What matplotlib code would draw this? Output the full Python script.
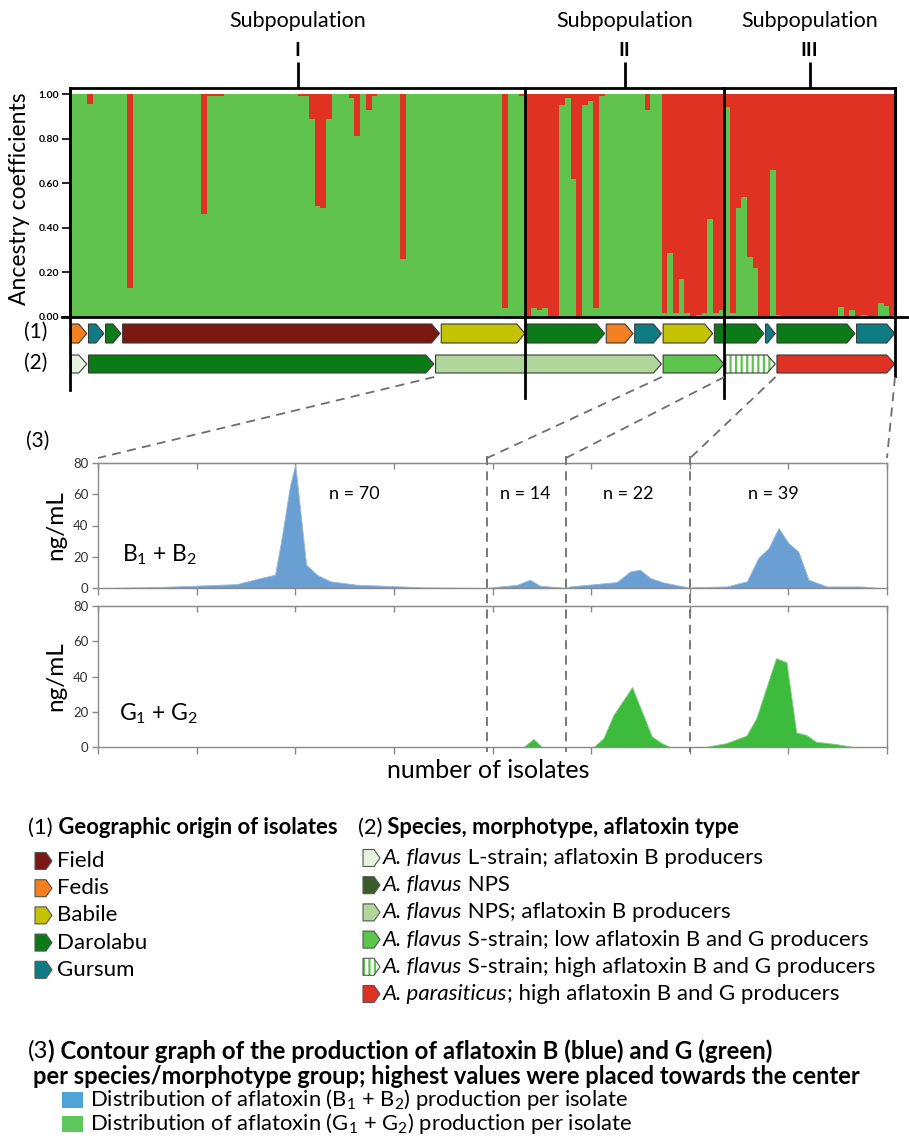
import matplotlib
matplotlib.use('Agg')
import matplotlib.pyplot as plt
from matplotlib.patches import Polygon, Rectangle
import numpy as np

plt.rcParams['font.family'] = ['Lato', 'DejaVu Sans']
plt.rcParams['mathtext.fontset'] = 'custom'
plt.rcParams['mathtext.rm'] = 'Lato'
plt.rcParams['mathtext.it'] = 'Lato:italic'
plt.rcParams['mathtext.bf'] = 'Lato:bold'
plt.rcParams['hatch.linewidth'] = 1.6

# ------------------------------------------------------------------ data
subpop_names = ['I', 'II', 'III']
subpop_sizes = [80, 35, 30]

# ancestry coefficient of the "green" cluster per isolate (red = 1 - green)
green_I = [1, 1, 1, 0.955, 1, 1, 1, 1, 1, 1,
           0.13, 1, 1, 1, 1, 1, 1, 1, 1, 1,
           1, 1, 1, 0.46, 0.99, 0.99, 0.99, 1, 1, 1,
           1, 1, 1, 1, 1, 1, 1, 1, 1, 1,
           0.99, 0.99, 0.89, 0.50, 0.49, 0.89, 1, 1, 1, 0.98,
           0.81, 1, 0.93, 0.99, 1, 1, 1, 1, 0.26, 1,
           1, 1, 1, 1, 1, 1, 1, 1, 1, 1,
           1, 1, 1, 1, 1, 1, 0.04, 1, 1, 0.99]
green_II = [0.0, 0.04, 0.03, 0.04, 0.0, 0.0, 0.95, 0.98, 0.62, 0.0,
            0.95, 0.97, 0.04, 0.99, 1, 1, 1, 1, 1, 1,
            1, 0.93, 1, 1, 0.02, 0.285, 0.02, 0.17, 0.02, 0.0,
            0.01, 0.02, 0.44, 0.02, 0.03]
green_III = [0.94, 0.02, 0.49, 0.54, 0.27, 0.22, 0.0, 0.0, 0.66, 0.01,
             0, 0, 0, 0, 0, 0, 0, 0, 0, 0,
             0.045, 0, 0.03, 0, 0.01, 0, 0, 0.065, 0.05, 0]
yticks_anc = [0.0, 0.2, 0.4, 0.6, 0.8, 1.0]

# (1) geographic origin, consecutive groups of isolates
origin_groups = ['Fedis', 'Gursum', 'Darolabu', 'Field', 'Babile', 'Darolabu', 'Fedis',
                 'Gursum', 'Babile', 'Darolabu', 'Gursum', 'Darolabu', 'Gursum']
origin_counts = [3, 3, 3, 56, 15, 14, 5, 5, 9, 9, 2, 14, 7]
origin_legend = ['Field', 'Fedis', 'Babile', 'Darolabu', 'Gursum']

# (2) species / morphotype groups
species_groups = ['L', 'NPS', 'NPSB', 'Slow', 'Shigh', 'par']
species_counts = [3, 61, 40, 11, 9, 21]
species_legend = [('L', 'A. flavus', ' L-strain; aflatoxin B producers'),
                  ('NPSleg', 'A. flavus', ' NPS'),
                  ('NPSB', 'A. flavus', ' NPS; aflatoxin B producers'),
                  ('Slow', 'A. flavus', ' S-strain; low aflatoxin B and G producers'),
                  ('Shigh', 'A. flavus', ' S-strain; high aflatoxin B and G producers'),
                  ('par', 'A. parasiticus', '; high aflatoxin B and G producers')]

# (3) contour graphs: isolate position vs ng/mL
group_n = [70, 14, 22, 39]
group_bounds = [0, 78.9, 94.9, 120.1, 160]
n_label_x = [51.9, 86.6, 107.5, 136.9]
B_x = [0, 11.9, 20, 28.1, 33.5, 35.9, 37.3, 38.9, 40.0, 41.0, 42.2, 44.4, 47.1, 52.5, 61.6, 65.9, 78.9,
       81.5, 84.9, 87.6, 89.6, 93.7, 94.9,
       95.7, 99.1, 105.2, 107.9, 109.9, 112.0, 114.6, 118.7, 120.1,
       120.7, 127.5, 131.6, 133.9, 136.0, 138.0, 140.0, 142.0, 144.1, 147.8, 154.9, 157.3, 158.6]
B_y = [0, 0.6, 1.5, 2.5, 6.8, 8.5, 33, 65, 79, 50, 15, 8.5, 4.3, 2.1, 1, 0.4, 0,
       1, 2, 5.3, 1.5, 0.4, 0,
       1, 2, 3.8, 10.6, 11.7, 6.4, 3.6, 1, 0,
       0.5, 1, 4.3, 19.2, 25.6, 38.4, 28.8, 23.4, 5.3, 1, 1, 0.3, 0]
G_x = [0, 86.3, 88.3, 90.0, 100.5, 102.5, 104.5, 108.3, 112.3, 114.3, 116.0,
       123.3, 127.4, 131.5, 133.5, 137.5, 139.6, 141.6, 143.6, 145.6, 149.6, 153.1, 160]
G_y = [0, 0, 4.6, 0, 0, 5, 18, 34, 6, 2.2, 0,
       0.1, 2.2, 6.5, 16.3, 50.4, 48.1, 8.2, 6.9, 3, 1.7, 0, 0]
yticks_ng = [0, 20, 40, 60, 80]

# ------------------------------------------------------------------ style
C_GREEN = '#5fc34d'
C_RED = '#df3222'
origin_colors = {'Field': '#7a1912', 'Fedis': '#f27f20', 'Babile': '#c3c300',
                 'Darolabu': '#0b7b17', 'Gursum': '#0f7c83'}
species_colors = {'L': '#e4f1de', 'NPS': '#0b7b17', 'NPSleg': '#3b5b29', 'NPSB': '#b1d69b',
                  'Slow': '#5dc44d', 'Shigh': '#5dc44d', 'par': '#e03224'}
C_B = '#6a9fd4'
C_G = '#3dbb3d'
C_EDGE = '#3a3a3a'
GRAY = '#8a8a8a'

W, H = 909, 1143
fig = plt.figure(figsize=(W / 100, H / 100), dpi=100)


def add_px_axes(x0, y0, x1, y1):
    return fig.add_axes([x0 / W, 1 - y1 / H, (x1 - x0) / W, (y1 - y0) / H])


# ------------------------------------------------------------------ ancestry bars
BX0, BX1, BY0, BY1 = 70, 895, 88, 317
N = sum(subpop_sizes)
green = np.array(green_I + green_II + green_III, dtype=float)
idx = np.arange(N)
axb = add_px_axes(BX0, BY0, BX1, BY1)
axb.bar(idx, green, width=1.0, align='edge', color=C_GREEN, linewidth=0, antialiased=False)
axb.bar(idx, 1 - green, bottom=green, width=1.0, align='edge', color=C_RED, linewidth=0,
        antialiased=False)
axb.set_xlim(0, N)
axb.set_ylim(0, 1.027)
axb.set_xticks([])
axb.set_yticks(yticks_anc)
axb.set_yticklabels([f'{v:.2f}' for v in yticks_anc], fontsize=7.5, fontweight='bold')
axb.tick_params(axis='y', length=6, width=1.2, pad=2)
for s in ['left', 'top', 'right']:
    axb.spines[s].set_linewidth(2)
axb.spines['bottom'].set_visible(False)


def bx(i):
    return BX0 + i * (BX1 - BX0) / N


# ------------------------------------------------------------------ arrow rows
axa = add_px_axes(BX0, 318, BX1, 382)
axa.set_xlim(0, N)
axa.set_ylim(382, 318)
axa.axis('off')
TIP = 8 * N / (BX1 - BX0)


def arrow_pts(x0, x1, y0, y1, tip):
    ym = (y0 + y1) / 2
    tip = min(tip, (x1 - x0) * 0.8)
    return [(x0, y0), (x1 - tip, y0), (x1, ym), (x1 - tip, y1), (x0, y1)]


def draw_row(ax, names, counts, colors, y0, y1):
    start = 0
    for nm, c in zip(names, counts):
        pts = arrow_pts(start + 0.25, start + c - 0.05, y0, y1, TIP)
        if nm == 'Shigh':
            ax.add_patch(Polygon(pts, facecolor='white', edgecolor=colors[nm], hatch='|||', lw=0))
            ax.add_patch(Polygon(pts, facecolor='none', edgecolor=C_EDGE, lw=0.8))
        else:
            ax.add_patch(Polygon(pts, facecolor=colors[nm], edgecolor=C_EDGE, lw=0.8))
        start += c


draw_row(axa, origin_groups, origin_counts, origin_colors, 324, 343)
draw_row(axa, species_groups, species_counts, species_colors, 355, 373)

# ------------------------------------------------------------------ contour graphs
CX0, CX1 = 98, 887
axB = add_px_axes(CX0, 463, CX1, 588)
axG = add_px_axes(CX0, 606, CX1, 747)
axB.fill_between(B_x, B_y, 0, color=C_B, linewidth=0.6, edgecolor='#9ab8d8')
axG.fill_between(G_x, G_y, 0, color=C_G, linewidth=0.6, edgecolor='#7ccf7c')
for ax in (axB, axG):
    ax.set_xlim(group_bounds[0], group_bounds[-1])
    ax.set_ylim(0, 80)
    ax.set_xticks(np.arange(0, 161, 20))
    ax.set_xticklabels([])
    ax.set_yticks(yticks_ng)
    ax.set_yticklabels([str(v) for v in yticks_ng], fontsize=9.5, color='#333333')
    ax.tick_params(axis='x', direction='out', length=5, color=GRAY, width=1)
    ax.tick_params(axis='y', direction='out', length=4, color=GRAY, width=1, pad=3)
    for s in ax.spines.values():
        s.set_color(GRAY)
        s.set_linewidth(1)
    sec = ax.secondary_xaxis('top')
    sec.set_xticks(np.arange(0, 161, 20))
    sec.set_xticklabels([])
    sec.tick_params(direction='in', length=4, color=GRAY, width=1)
    sec.spines['top'].set_color(GRAY)
    ax.set_ylabel('ng/mL', fontsize=17.5, labelpad=5)
for k, n in enumerate(group_n):
    axB.text(n_label_x[k], 60, f'n = {n}', fontsize=13, ha='center', va='center')
axB.text(4.9, 21, 'B$_1$ + B$_2$', fontsize=16.5, ha='left', va='center')
axG.text(4.3, 19, 'G$_1$ + G$_2$', fontsize=16.5, ha='left', va='center')


def cx(u):
    return CX0 + u * (CX1 - CX0) / (group_bounds[-1] - group_bounds[0])


# ------------------------------------------------------------------ overlay
ov = add_px_axes(0, 0, W, H)
ov.set_xlim(0, W)
ov.set_ylim(H, 0)
ov.axis('off')

sub_b = np.concatenate([[0], np.cumsum(subpop_sizes)])
for k, name in enumerate(subpop_names):
    xc = bx((sub_b[k] + sub_b[k + 1]) / 2)
    ov.text(xc, 21, 'Subpopulation', fontsize=15.5, ha='center', va='center')
    ov.text(xc, 50, name, fontsize=14, fontweight='bold', ha='center', va='center')
    ov.plot([xc, xc], [62, BY0], color='k', lw=2, solid_capstyle='butt')

ov.plot([bx(0), bx(0)], [BY0, 390], color='k', lw=2)
for b in sub_b[1:-1]:
    ov.plot([bx(b), bx(b)], [BY0, 398], color='k', lw=2)
ov.plot([bx(N), bx(N)], [BY0, 376], color='k', lw=2)
ov.plot([62, W], [BY1, BY1], color='k', lw=2)

ov.text(20, 199, 'Ancestry coefficients', fontsize=16.5, rotation=90, ha='center', va='center')
ov.text(36, 332, '(1)', fontsize=15, ha='center', va='center')
ov.text(36, 363, '(2)', fontsize=15, ha='center', va='center')
ov.text(38, 441, '(3)', fontsize=15, ha='center', va='center')

# dashed connectors
sp_b = np.cumsum(species_counts)
dash = dict(color='#6e6e6e', lw=1.3, linestyle=(0, (5, 3.5)))
for sb, gb in zip(sp_b[1:], group_bounds):
    ov.plot([bx(sb), cx(gb)], [377, 458], **dash)
for gb in group_bounds[1:-1]:
    ov.plot([cx(gb), cx(gb)], [456, 752], **dash)

ov.text(488, 770, 'number of isolates', fontsize=18, ha='center', va='center')

renderer = fig.canvas.get_renderer()


def rich(x, y, parts, size):
    for txt, st in parts:
        t = ov.text(x, y, txt, fontsize=size, ha='left', va='center',
                    fontweight='bold' if 'b' in st else 'normal',
                    fontstyle='italic' if 'i' in st else 'normal')
        x += t.get_window_extent(renderer=renderer).width


def legend_arrow(x, y, color, hatch=False):
    pts = arrow_pts(x, x + 17, y - 8.5, y + 8.5, 6)
    if hatch:
        ov.add_patch(Polygon(pts, facecolor='white', edgecolor=color, hatch='|||', lw=0))
        ov.add_patch(Polygon(pts, facecolor='none', edgecolor='#555555', lw=0.8))
    else:
        ov.add_patch(Polygon(pts, facecolor=color, edgecolor='#555555', lw=0.8))


HS = 15.8   # headers (1), (2)
IS = 16     # legend items
rich(28, 828, [('(1)', ''), (' Geographic origin of isolates', 'b')], HS)
for k, nm in enumerate(origin_legend):
    y = 861 + 27.2 * k
    legend_arrow(35, y, origin_colors[nm])
    ov.text(57, y, nm, fontsize=IS, ha='left', va='center')

rich(358, 828, [('(2)', ''), (' Species, morphotype, aflatoxin type', 'b')], HS)
for k, (key, sp, rest) in enumerate(species_legend):
    y = 858 + 27.2 * k
    legend_arrow(363, y, species_colors[key], hatch=(key == 'Shigh'))
    rich(383, y, [(sp, 'i'), (rest, '')], IS)

rich(28, 1051, [('(3', ''), (') Contour graph of the production of aflatoxin B (blue) and G (green)', 'b')], 17.3)
rich(33, 1076, [('per species/morphotype group; highest values were placed towards the center', 'b')], 17.0)
ov.add_patch(Rectangle((62, 1092), 21, 16, facecolor='#4ea4d6', edgecolor='none'))
ov.add_patch(Rectangle((62, 1116), 21, 16, facecolor='#5ec85e', edgecolor='none'))
ov.text(90, 1100, 'Distribution of aflatoxin (B$_1$ + B$_2$) production per isolate',
        fontsize=15.8, ha='left', va='center')
ov.text(90, 1124, 'Distribution of aflatoxin (G$_1$ + G$_2$) production per isolate',
        fontsize=15.8, ha='left', va='center')

fig.savefig('out.png', dpi=100)
